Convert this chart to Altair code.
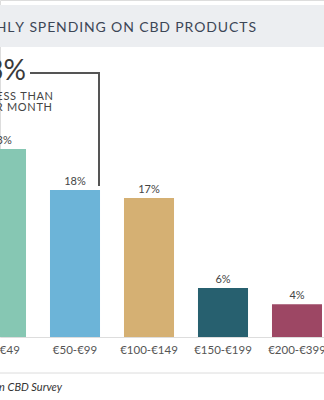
import altair as alt
import pandas as pd

categories = ["€0", "€1-€49", "€50-€99", "€100-€149", "€150-€199", "€200-€399", "€400+"]
values = [22, 23, 18, 17, 6, 4, 10]
labels = ["22%", "23%", "18%", "17%", "6%", "4%", "10%"]
colors = ["#b8d9cf", "#86c7b3", "#6cb4d8", "#d5b073", "#27606f", "#9d4764", "#8a8a8a"]

title_text = "MONTHLY SPENDING ON CBD PRODUCTS"
big_number = "63%"
note_lines = ["SPEND LESS THAN", "€100 PER MONTH"]
source_text = "Source: European CBD Survey"

HS = "\u200a"  # hair space, used as letter spacing


def spaced(s):
    return HS.join(list(s))


df = pd.DataFrame({"cat": categories, "value": values, "label": labels})
one = pd.DataFrame({"a": [0]})

FONT = "Lato"

xenc = alt.X(
    "cat:N",
    sort=categories,
    scale=alt.Scale(range=[-110, 408], paddingInner=0.324, paddingOuter=0.162),
    axis=alt.Axis(title=None, domain=False, ticks=False, labelAngle=0, labelPadding=7,
                  labelFontSize=11.5, labelColor="#555555", labelFont=FONT,
                  labelOverlap=False, grid=False),
)
yenc = alt.Y("value:Q", scale=alt.Scale(domain=[0, 41.25]), axis=None)

base = alt.Chart(df)

band = alt.Chart(one).mark_rect(color="#eceef1").encode(
    x=alt.value(0), x2=alt.value(324), y=alt.value(5), y2=alt.value(47)
)
title = alt.Chart(one).mark_text(
    align="right", baseline="middle", font=FONT, fontSize=14, color="#3c4656"
).encode(x=alt.value(256), y=alt.value(27.5), text=alt.value(spaced(title_text)))

bars = base.mark_bar().encode(
    x=xenc, y=yenc,
    color=alt.Color("cat:N", scale=alt.Scale(domain=categories, range=colors), legend=None),
)
bar_labels = base.mark_text(
    baseline="bottom", dy=-3, font=FONT, fontSize=11, color="#444444"
).encode(x=xenc, y=yenc, text="label:N")

big = alt.Chart(one).mark_text(
    align="right", baseline="middle", font=FONT, fontSize=28, color="#3a3a3a"
).encode(x=alt.value(26), y=alt.value(72), text=alt.value(big_number))
note1 = alt.Chart(one).mark_text(
    align="right", baseline="middle", font=FONT, fontSize=11, color="#444444"
).encode(x=alt.value(53), y=alt.value(96.5), text=alt.value(spaced(note_lines[0])))
note2 = alt.Chart(one).mark_text(
    align="right", baseline="middle", font=FONT, fontSize=11, color="#444444"
).encode(x=alt.value(52), y=alt.value(108), text=alt.value(spaced(note_lines[1])))

hline = alt.Chart(one).mark_rule(color="#555555", strokeWidth=2).encode(
    x=alt.value(30), x2=alt.value(100), y=alt.value(73)
)
vline = alt.Chart(one).mark_rule(color="#555555", strokeWidth=2).encode(
    x=alt.value(99), y=alt.value(72), y2=alt.value(186)
)

bottom_rule = alt.Chart(one).mark_rule(color="#dcdcdc", strokeWidth=1).encode(
    x=alt.value(0), x2=alt.value(324), y=alt.value(373)
)
source = alt.Chart(one).mark_text(
    align="right", baseline="middle", font=FONT, fontSize=11, fontStyle="italic", color="#333333"
).encode(x=alt.value(62), y=alt.value(388), text=alt.value(source_text))

chart = alt.layer(
    band, title, bars, bar_labels, hline, vline, big, note1, note2, bottom_rule, source
).properties(
    width=324, height=337,
    autosize=alt.AutoSizeParams(type="none"),
    padding={"left": 0, "right": 0, "top": 0, "bottom": 63},
).configure_view(stroke=None).configure(background="white")

chart.save("out.html", embed_options={"renderer": "svg", "actions": False})
